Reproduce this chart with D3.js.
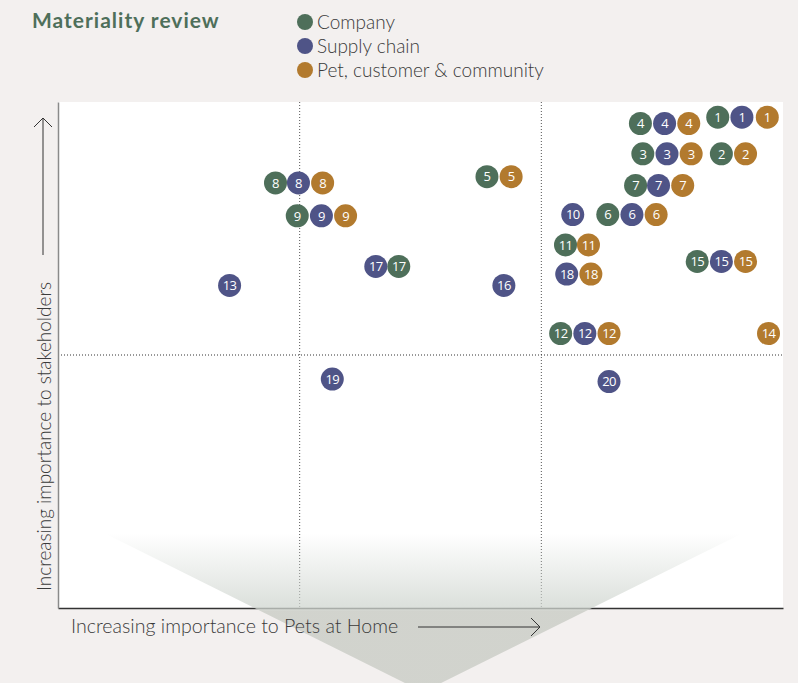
<!DOCTYPE html>
<html>
<head>
<meta charset="utf-8">
<script src="https://cdn.jsdelivr.net/npm/d3@7"></script>
<style>
  body { margin: 0; background: #f3f0ef; }
  svg { display: block; }
</style>
</head>
<body>
<div id="chart"></div>
<script>
// Series and their colours
const seriesNames = ["Company", "Supply chain", "Pet, customer & community"];
const seriesColors = ["#4e6f5a", "#4f5487", "#b27a2e"];

// Points per series: [issue number, importance to Pets at Home, importance to stakeholders]
const companyPoints = [
  [1, 27.3, 19.4], [4, 24.1, 19.15], [3, 24.2, 17.95], [2, 27.45, 17.95],
  [7, 23.9, 16.7], [6, 22.75, 15.55], [8, 9.0, 16.8], [9, 9.9, 15.5],
  [5, 17.75, 17.05], [17, 14.1, 13.5], [11, 21.0, 14.35], [15, 26.45, 13.7],
  [12, 20.8, 10.85]
];
const supplyPoints = [
  [1, 28.3, 19.4], [4, 25.1, 19.15], [3, 25.2, 17.95], [7, 24.85, 16.7],
  [10, 21.3, 15.55], [6, 23.75, 15.55], [8, 9.95, 16.8], [9, 10.9, 15.5],
  [17, 13.15, 13.5], [13, 7.1, 12.75], [16, 18.45, 12.75], [18, 21.05, 13.2],
  [15, 27.45, 13.7], [12, 21.8, 10.85], [19, 11.35, 9.05], [20, 22.8, 8.95]
];
const petPoints = [
  [1, 29.35, 19.4], [4, 26.1, 19.15], [3, 26.2, 17.95], [2, 28.45, 17.95],
  [7, 25.85, 16.7], [6, 24.75, 15.55], [8, 10.95, 16.8], [9, 11.9, 15.5],
  [5, 18.75, 17.05], [11, 21.95, 14.35], [18, 22.05, 13.2], [15, 28.45, 13.7],
  [12, 22.8, 10.85], [14, 29.4, 10.85]
];

// Quadrant divisions
const xDomain = [0, 30];
const yDomain = [0, 20];
const xDividers = [10, 20];
const yDividers = [10];

const width = 798;
const height = 683;
const margin = { top: 102, right: 15, bottom: 75, left: 58 };
const innerWidth = width - margin.left - margin.right;
const innerHeight = height - margin.top - margin.bottom;

const svg = d3.select("#chart")
  .append("svg")
    .attr("width", width)
    .attr("height", height);

/*********************/
/*    Title/legend   */
/*********************/
svg.append("text")
  .attr("x", 32)
  .attr("y", 28)
  .attr("font-family", "Lato, sans-serif")
  .attr("font-weight", 700)
  .attr("font-size", 21)
  .attr("letter-spacing", 1)
  .attr("fill", "#4e6f5a")
  .text("Materiality review");

const legend = svg.append("g")
  .attr("transform", "translate(305, 22)");
seriesNames.forEach((name, i) => {
  const row = legend.append("g").attr("transform", `translate(0, ${i * 24})`);
  row.append("circle")
    .attr("r", 8)
    .attr("fill", seriesColors[i]);
  row.append("text")
    .attr("x", 12)
    .attr("y", 7)
    .attr("font-family", "Lato, sans-serif")
    .attr("font-weight", 300)
    .attr("font-size", 19)
    .attr("fill", "#3a3a3a")
    .text(name);
});

/*********************/
/*      Scales       */
/*********************/
const xScale = d3.scaleLinear()
  .domain(xDomain)
  .range([0, innerWidth]);
const yScale = d3.scaleLinear()
  .domain(yDomain)
  .range([innerHeight, 0]);

const inner = svg.append("g")
  .attr("transform", `translate(${margin.left}, ${margin.top})`);

// Plot background
inner.append("rect")
  .attr("width", innerWidth)
  .attr("height", innerHeight)
  .attr("fill", "#ffffff");

// Fading triangle behind the chart
const defs = svg.append("defs");
const grad = defs.append("linearGradient")
  .attr("id", "fade")
  .attr("gradientUnits", "userSpaceOnUse")
  .attr("x1", 0).attr("x2", 0)
  .attr("y1", 533).attr("y2", 690);
grad.append("stop").attr("offset", 0).attr("stop-color", "#cfd5cf").attr("stop-opacity", 0);
grad.append("stop").attr("offset", 0.48).attr("stop-color", "#cfd5cf").attr("stop-opacity", 0.75);
grad.append("stop").attr("offset", 0.5).attr("stop-color", "#c9ccc5").attr("stop-opacity", 0.8);
grad.append("stop").attr("offset", 1).attr("stop-color", "#c9ccc5").attr("stop-opacity", 0.8);
svg.append("path")
  .attr("d", "M104,533 L743,533 L423,692 Z")
  .attr("fill", "url(#fade)");

// Dotted dividers
inner.selectAll(".divider-x")
  .data(xDividers)
  .join("line")
    .attr("class", "divider-x")
    .attr("x1", d => xScale(d)).attr("x2", d => xScale(d))
    .attr("y1", 0).attr("y2", innerHeight)
    .attr("stroke", "#555")
    .attr("stroke-width", 1)
    .attr("stroke-dasharray", "1,2");
inner.selectAll(".divider-y")
  .data(yDividers)
  .join("line")
    .attr("class", "divider-y")
    .attr("x1", 0).attr("x2", innerWidth)
    .attr("y1", d => yScale(d)).attr("y2", d => yScale(d))
    .attr("stroke", "#333")
    .attr("stroke-width", 1)
    .attr("stroke-dasharray", "1,2");

/*********************/
/*       Axes        */
/*********************/
inner.append("g")
  .attr("transform", `translate(0, ${innerHeight})`)
  .call(d3.axisBottom(xScale).ticks(0).tickSizeOuter(0))
  .call(g => g.select(".domain").attr("stroke", "#333").attr("stroke-width", 1.5));
inner.append("g")
  .call(d3.axisLeft(yScale).ticks(0).tickSizeOuter(0))
  .call(g => g.select(".domain").attr("stroke", "#8a8a8a").attr("stroke-width", 1.5));

// Axis titles with arrows
const labelFont = { family: "Lato, sans-serif", color: "#3a3a3a" };
svg.append("text")
  .attr("x", 71)
  .attr("y", 633)
  .attr("font-family", labelFont.family)
  .attr("font-weight", 300)
  .attr("font-size", 19.6)
  .attr("fill", labelFont.color)
  .text("Increasing importance to Pets at Home");

svg.append("text")
  .attr("transform", "translate(51, 591) rotate(-90)")
  .attr("font-family", labelFont.family)
  .attr("font-weight", 300)
  .attr("font-size", 19)
  .attr("fill", labelFont.color)
  .text("Increasing importance to stakeholders");

const arrow = svg.append("g")
  .attr("fill", "none")
  .attr("stroke", "#333")
  .attr("stroke-width", 1);
arrow.append("path").attr("d", "M418,627 H540 M531,618 L540,627 L531,636");
arrow.append("path").attr("d", "M43,255 V118 M34,127 L43,118 L52,127");

/*********************/
/*      Points       */
/*********************/
const allSeries = [companyPoints, supplyPoints, petPoints];
allSeries.forEach((points, i) => {
  const nodes = inner.selectAll(`.pt-${i}`)
    .data(points)
    .join("g")
      .attr("class", `pt-${i}`)
      .attr("transform", d => `translate(${xScale(d[1])}, ${yScale(d[2])})`);
  nodes.append("circle")
    .attr("r", 11.5)
    .attr("fill", seriesColors[i]);
  nodes.append("text")
    .attr("text-anchor", "middle")
    .attr("dy", "0.36em")
    .attr("font-family", "'Open Sans', sans-serif")
    .attr("font-size", 13)
    .attr("letter-spacing", -0.6)
    .attr("fill", "#ffffff")
    .text(d => d[0]);
});
</script>
</body>
</html>
